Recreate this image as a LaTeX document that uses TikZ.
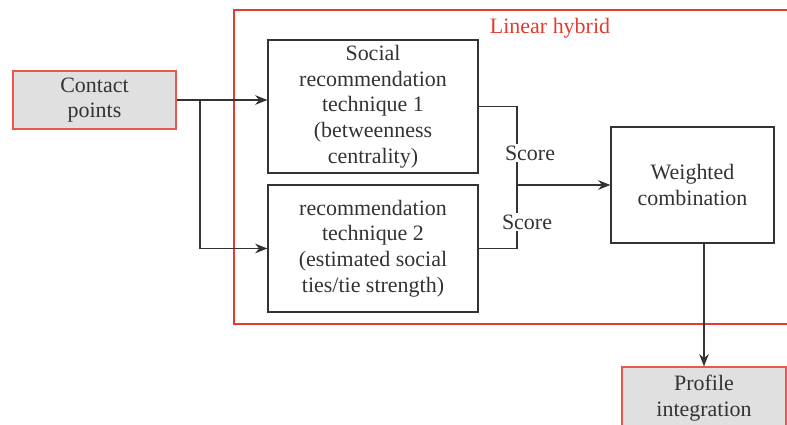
\documentclass[tikz,border=0pt]{standalone}
\usepackage{fontspec}
\setmainfont{Liberation Serif}
\usetikzlibrary{arrows.meta}
\definecolor{frame}{HTML}{E53A2F}
\definecolor{inout}{HTML}{E0E0E0}
\definecolor{ink}{HTML}{333333}
\begin{document}
\begin{tikzpicture}[>={Stealth[length=7pt, width=5.5pt]}, x=0.02cm, y=-0.02cm,
  font=\fontsize{12.5}{14.6}\selectfont, text=ink,
  box/.style={draw=ink, line width=0.7pt, rectangle, align=center, inner sep=0pt},
  endbox/.style={draw=frame!85!white, fill=inout, line width=0.7pt, rectangle, align=center, inner sep=0pt}]
\clip (0,0) rectangle (787,425);

\draw[frame, line width=0.6pt] (234,10) rectangle (800,324);
\node[text=frame] (title) at (550,28) {Linear hybrid};

\node[endbox, minimum width=3.26cm, minimum height=1.16cm] (contact) at (94.5,100) {Contact\\points};
\node[box, minimum width=4.2cm, minimum height=2.66cm] (b1) at (373,106.5) {Social\\recommendation\\technique 1\\(betweenness\\centrality)};
\node[box, minimum width=4.2cm, minimum height=2.54cm] (b2) at (373,248.5) {recommendation\\technique 2\\(estimated social\\ties/tie strength)};
\node[box, minimum width=3.26cm, minimum height=2.32cm] (wc) at (692.5,185) {Weighted\\combination};
\node[endbox, minimum width=3.28cm, minimum height=1.24cm] (profile) at (704,398) {Profile\\integration};

\coordinate (split) at (200,100);
\coordinate (join) at (517,185);

\draw[->, ink, line width=0.7pt] (contact.east) -- (b1.west |- contact.east);
\draw[->, ink, line width=0.7pt] (split) |- (b2.west);

\draw[ink, line width=0.7pt] (b1.east) -| (join);
\draw[ink, line width=0.7pt] (b2.east) -| (join);
\node[fill=white, inner sep=1pt] (s1) at (530,153) {Score};
\node[fill=white, inner sep=1pt] (s2) at (527,222) {Score};
\draw[->, ink, line width=0.7pt] (join) -- (wc.west);

\draw[->, ink, line width=0.7pt] (profile.north |- wc.south) -- (profile.north);
\end{tikzpicture}
\end{document}
